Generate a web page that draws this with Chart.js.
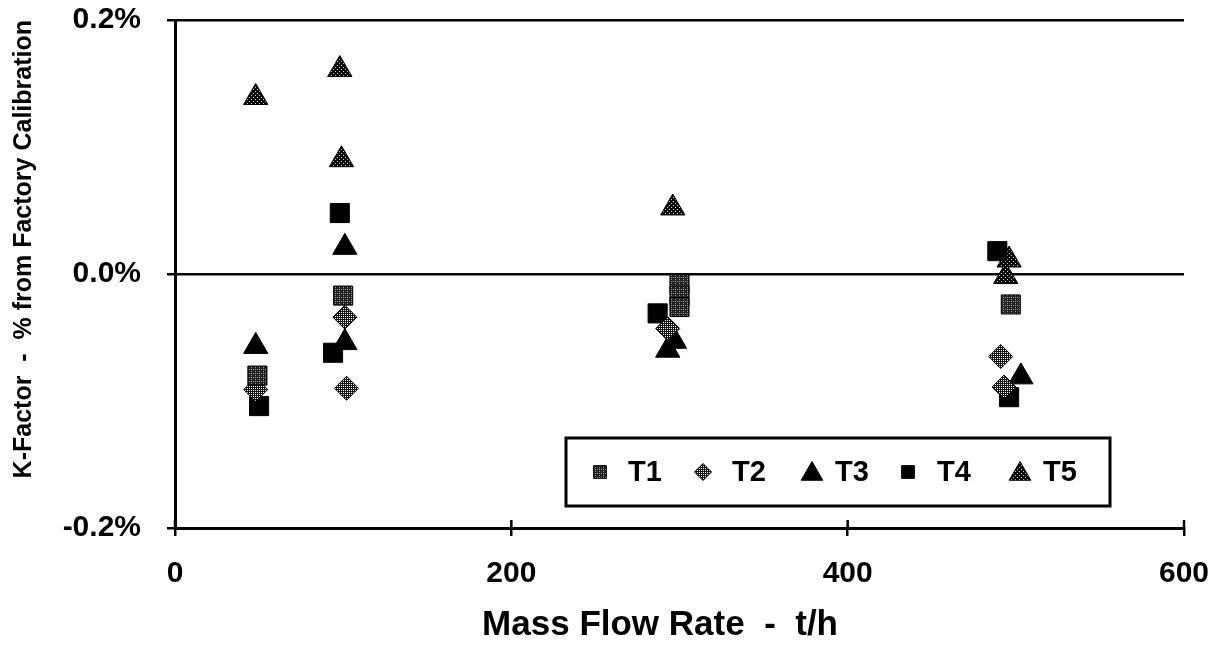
<!DOCTYPE html>
<html>
<head>
<meta charset="utf-8">
<script src="https://cdn.jsdelivr.net/npm/chart.js@4.4.1/dist/chart.umd.min.js"></script>
<style>
  body { margin: 0; background: #fff; }
  #wrap { width: 1225px; height: 649px; }
</style>
</head>
<body>
<div id="wrap"><canvas id="kfactor" width="1225" height="649"></canvas></div>
<script>
// K-factor deviation vs mass flow rate (in %)
var seriesNames = ['T1', 'T2', 'T3', 'T4', 'T5'];

var t1Flow = [49, 100, 300, 300, 300, 497];
var t1Dev  = [-0.080, -0.017, -0.008, -0.017, -0.026, -0.024];

var t2Flow = [48, 101, 102, 293, 491, 493];
var t2Dev  = [-0.091, -0.034, -0.090, -0.043, -0.065, -0.089];

var t3Flow = [48, 101, 101, 293, 297, 503];
var t3Dev  = [-0.057, 0.021, -0.054, -0.060, -0.053, -0.081];

var t4Flow = [50, 98, 94, 287, 489, 496];
var t4Dev  = [-0.104, 0.048, -0.062, -0.031, 0.018, -0.097];

var t5Flow = [48, 98, 99, 296, 496, 494];
var t5Dev  = [0.139, 0.161, 0.090, 0.052, 0.011, -0.002];

var xTicks = [0, 200, 400, 600];
var yTicks = [-0.2, 0.0, 0.2];

function toPoints(xs, ys) {
    var pts = [];
    for (var i = 0; i < xs.length; i++) {
        pts.push({x: xs[i], y: ys[i]});
    }
    return pts;
}

// little dotted fills, like the halftone markers of the scan
function makePattern(bg, fg, size, dots) {
    var c = document.createElement('canvas');
    c.width = size;
    c.height = size;
    var g = c.getContext('2d');
    g.fillStyle = bg;
    g.fillRect(0, 0, size, size);
    g.fillStyle = fg;
    for (var i = 0; i < dots.length; i++) {
        g.fillRect(dots[i][0], dots[i][1], 1, 1);
    }
    return g.createPattern(c, 'repeat');
}

var ctx = document.getElementById('kfactor');
var fillT1 = makePattern('#222222', '#9a9a9a', 4, [[1, 1], [3, 3], [3, 1]]);
var fillT2 = makePattern('#111111', '#ffffff', 2, [[1, 0]]);
var fillT5 = makePattern('#0a0a0a', '#cfcfcf', 4, [[1, 1], [3, 3]]);

var styles = [
    {shape: 'rect', fill: fillT1, r: 13.5, lr: 9},
    {shape: 'rectRot', fill: fillT2, r: 12, lr: 8.5},
    {shape: 'triangle', fill: '#000', r: 14, lr: 12.5},
    {shape: 'rect', fill: '#000', r: 13.5, lr: 9},
    {shape: 'triangle', fill: fillT5, r: 14, lr: 12.5}
];

var allFlow = [t1Flow, t2Flow, t3Flow, t4Flow, t5Flow];
var allDev = [t1Dev, t2Dev, t3Dev, t4Dev, t5Dev];

var datasets = [];
for (var s = 0; s < seriesNames.length; s++) {
    datasets.push({
        label: seriesNames[s],
        data: toPoints(allFlow[s], allDev[s]),
        pointStyle: styles[s].shape,
        pointRadius: styles[s].r,
        pointBackgroundColor: styles[s].fill,
        pointBorderColor: '#000',
        pointBorderWidth: 1,
        showLine: false
    });
}

var boldFont = '"Liberation Sans", Arial, Helvetica, sans-serif';

// ticks in the original cross the axis, so add the inner half
var innerTicks = {
    id: 'innerTicks',
    afterDraw: function(chart) {
        var c = chart.ctx;
        var xs = chart.scales.x;
        var area = chart.chartArea;
        c.save();
        c.strokeStyle = '#000';
        c.lineWidth = 2.5;
        for (var i = 0; i < xTicks.length; i++) {
            var px = xs.getPixelForValue(xTicks[i]);
            c.beginPath();
            c.moveTo(px, area.bottom);
            c.lineTo(px, area.bottom - 8);
            c.stroke();
        }
        c.restore();
    }
};

// boxed legend sitting inside the plot
var boxLegend = {
    id: 'boxLegend',
    afterDraw: function(chart) {
        var c = chart.ctx;
        var bx = 566, by = 438, bw = 544, bh = 68;
        var markX = [34, 137, 246, 342, 454];
        var textX = [62, 166, 269, 371, 477];
        var cy = by + bh / 2;
        c.save();
        c.fillStyle = '#fff';
        c.fillRect(bx, by, bw, bh);
        c.strokeStyle = '#000';
        c.lineWidth = 3;
        c.strokeRect(bx, by, bw, bh);
        for (var i = 0; i < seriesNames.length; i++) {
            c.fillStyle = styles[i].fill;
            c.strokeStyle = '#000';
            c.lineWidth = 1;
            Chart.helpers.drawPoint(c, {pointStyle: styles[i].shape, radius: styles[i].lr, rotation: 0, borderWidth: 1},
                bx + markX[i], cy + (styles[i].shape === 'triangle' ? 2 : 0));
            c.fillStyle = '#000';
            c.font = 'bold 29px ' + boldFont;
            c.textAlign = 'left';
            c.textBaseline = 'middle';
            c.fillText(seriesNames[i], bx + textX[i], cy + 1);
        }
        c.restore();
    }
};

var myChart = new Chart(ctx, {
    type: 'scatter',
    data: {datasets: datasets},
    options: {
        responsive: false,
        animation: false,
        layout: {padding: {left: 0, top: 20, right: 41, bottom: 0}},
        plugins: {
            legend: {display: false},
            tooltip: {enabled: false}
        },
        scales: {
            x: {
                type: 'linear',
                min: 0,
                max: 600,
                afterBuildTicks: function(scale) {
                    scale.ticks = xTicks.map(function(v) { return {value: v}; });
                },
                afterFit: function(scale) {
                    scale.height = 121;
                    scale.paddingLeft = 0;
                    scale.paddingRight = 0;
                },
                grid: {
                    drawOnChartArea: false,
                    color: '#000',
                    lineWidth: 2.5,
                    tickLength: 8
                },
                border: {display: true, color: '#000', width: 3},
                ticks: {
                    color: '#000',
                    padding: 20,
                    maxRotation: 0,
                    font: {family: boldFont, size: 30, weight: 'bold'}
                },
                title: {
                    display: true,
                    text: 'Mass Flow Rate  -  t/h    ',
                    color: '#000',
                    padding: {top: 0, bottom: 3},
                    font: {family: boldFont, size: 35, weight: 'bold'}
                }
            },
            y: {
                type: 'linear',
                min: -0.2,
                max: 0.2,
                afterBuildTicks: function(scale) {
                    scale.ticks = yTicks.map(function(v) { return {value: v}; });
                },
                afterFit: function(scale) {
                    scale.width = 175;
                    scale.paddingTop = 0;
                    scale.paddingBottom = 0;
                },
                grid: {
                    color: '#000',
                    lineWidth: 2.5,
                    tickLength: 8
                },
                border: {display: true, color: '#000', width: 3},
                ticks: {
                    color: '#000',
                    padding: 26,
                    callback: function(v) { return (Math.round(v * 10) / 10).toFixed(1) + '%'; },
                    font: {family: boldFont, size: 30, weight: 'bold'}
                },
                title: {
                    display: true,
                    text: 'K-Factor  -  % from Factory Calibration',
                    align: 'end',
                    color: '#000',
                    padding: {top: 9, bottom: 0},
                    font: {family: boldFont, size: 25, weight: 'bold'}
                }
            }
        }
    },
    plugins: [innerTicks, boxLegend]
});
</script>
</body>
</html>
